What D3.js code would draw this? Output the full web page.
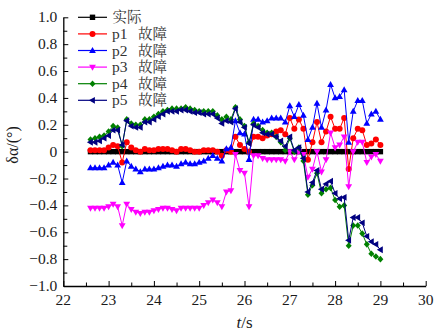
<!DOCTYPE html>
<html><head><meta charset="utf-8">
<script src="https://cdn.jsdelivr.net/npm/d3@7"></script>
<style>body{margin:0;background:#fff}svg{display:block;font-family:"Liberation Serif","Times New Roman",serif}
svg text{font-family:"Liberation Serif","Times New Roman",serif}
svg text.cjk{font-family:"Noto Serif CJK SC","Noto Serif CJK JP",serif}
</style>
</head><body>
<script>
const times = d3.range(65).map(i => +(22.6 + i*0.1).toFixed(1));
const actual = new Array(65).fill(0);
const p1 = [0.01,0.01,0.01,0.01,0.03,0.05,0.04,-0.08,0.07,0.03,0.01,0.00,0.02,0.01,0.01,0.02,0.02,0.02,0.01,0.00,0.02,0.02,0.01,0.00,0.00,0.01,0.01,0.01,0.00,-0.03,0.01,0.00,0.11,0.05,0.02,0.00,0.11,0.11,0.10,0.12,0.13,0.15,0.16,0.13,0.25,0.17,0.24,0.17,-0.06,0.07,0.22,0.07,0.15,0.26,0.17,0.17,0.25,-0.13,0.10,0.17,0.16,0.05,0.06,0.09,0.05];
const p2 = [-0.12,-0.12,-0.12,-0.12,-0.10,-0.08,-0.10,-0.23,-0.07,-0.11,-0.13,-0.15,-0.13,-0.13,-0.13,-0.12,-0.11,-0.10,-0.10,-0.11,-0.09,-0.08,-0.09,-0.09,-0.08,-0.07,-0.05,-0.03,-0.05,-0.07,0.02,0.03,0.23,0.14,0.13,-0.06,0.24,0.24,0.22,0.23,0.25,0.25,0.25,0.22,0.34,0.26,0.35,0.27,0.09,0.18,0.36,0.18,0.31,0.50,0.40,0.41,0.46,0.07,0.30,0.38,0.38,0.21,0.28,0.30,0.24];
const p3 = [-0.42,-0.42,-0.42,-0.42,-0.41,-0.39,-0.41,-0.55,-0.39,-0.43,-0.45,-0.46,-0.45,-0.45,-0.44,-0.43,-0.42,-0.42,-0.43,-0.44,-0.42,-0.42,-0.42,-0.42,-0.42,-0.40,-0.38,-0.36,-0.38,-0.41,-0.30,-0.29,-0.02,-0.14,-0.16,-0.41,-0.03,-0.03,-0.05,-0.06,-0.06,-0.06,-0.06,-0.07,0.00,-0.06,0.00,-0.02,-0.19,-0.13,0.00,-0.15,-0.06,0.14,0.03,0.05,0.11,-0.26,0.00,0.07,0.07,-0.08,-0.04,-0.02,-0.07];
const p4 = [0.09,0.10,0.11,0.12,0.15,0.19,0.18,0.04,0.24,0.21,0.20,0.20,0.24,0.24,0.26,0.28,0.30,0.31,0.32,0.32,0.32,0.33,0.32,0.31,0.30,0.30,0.30,0.30,0.27,0.24,0.26,0.24,0.33,0.24,0.19,0.07,0.21,0.19,0.16,0.14,0.14,0.11,0.07,0.01,0.10,0.00,0.03,-0.07,-0.32,-0.25,-0.16,-0.31,-0.28,-0.27,-0.36,-0.41,-0.40,-0.70,-0.55,-0.55,-0.61,-0.69,-0.76,-0.78,-0.80];
const p5 = [0.07,0.07,0.08,0.10,0.12,0.16,0.16,0.05,0.23,0.19,0.18,0.18,0.22,0.22,0.24,0.26,0.28,0.30,0.30,0.30,0.31,0.31,0.30,0.29,0.29,0.28,0.28,0.28,0.25,0.21,0.23,0.22,0.32,0.22,0.18,0.06,0.20,0.18,0.14,0.13,0.13,0.11,0.08,0.04,0.11,0.01,0.03,-0.05,-0.30,-0.23,-0.14,-0.28,-0.24,-0.22,-0.31,-0.35,-0.34,-0.66,-0.49,-0.49,-0.53,-0.63,-0.67,-0.69,-0.73];
const seriesPrefix = ["","p1","p2","p3","p4","p5"];
const seriesCJK = ["实际","故障","故障","故障","故障","故障"];
const seriesValues = [actual,p1,p2,p3,p4,p5];
const seriesColors = ["#000000","#ff0000","#0000ff","#ff00ff","#008000","#000080"];
const seriesSymbols = ["square","circle","up","down","diamond","left"];
const xTicks = [22,23,24,25,26,27,28,29,30];
const yTicks = [1.0,0.8,0.6,0.4,0.2,0,-0.2,-0.4,-0.6,-0.8,-1.0];

const W=445,H=334;
const m={l:63.3,r:19.3,t:17.3,b:48};
const svg=d3.select("body").append("svg").attr("width",W).attr("height",H);
const x=d3.scaleLinear().domain([22,30]).range([m.l,W-m.r]);
const y=d3.scaleLinear().domain([-1,1]).range([H-m.b,m.t]);
const fmt=v=>v===0?"0":(v<0?"\u2212":"")+Math.abs(v).toFixed(1);

const ax=svg.append("g").attr("transform",`translate(0,${y(-1)})`)
  .call(d3.axisBottom(x).tickValues(d3.range(22,30.01,0.5)).tickSizeInner(-4).tickSizeOuter(0).tickFormat(""));
ax.selectAll(".tick line").attr("y2",d=>Number.isInteger(d)?-5:-3.5);
ax.select(".domain").attr("stroke-width",1.3);
const ay=svg.append("g").attr("transform",`translate(${x(22)},0)`)
  .call(d3.axisLeft(y).tickValues(d3.range(-10,11).map(i=>i/10)).tickSizeInner(-4).tickSizeOuter(0).tickFormat(""));
ay.selectAll(".tick line").attr("x2",d=>Math.round(d*10)%2===0?5:4);
ay.select(".domain").attr("stroke-width",1.3);

svg.append("g").selectAll("text").data(xTicks).join("text")
  .attr("x",d=>x(d)).attr("y",y(-1)+19).attr("text-anchor","middle")
  .attr("font-size",15.5).attr("fill","#1a1a1a").text(d=>d);
svg.append("g").selectAll("text").data(yTicks).join("text")
  .attr("x",x(22)-6).attr("y",d=>y(d)+5).attr("text-anchor","end")
  .attr("font-size",15.5).attr("fill","#1a1a1a").text(fmt);

const xt=svg.append("text").attr("x",x(26)).attr("y",H-6).attr("text-anchor","middle")
  .attr("font-size",17).attr("fill","#1a1a1a");
xt.append("tspan").attr("font-style","italic").text("t");
xt.append("tspan").text("/s");
svg.append("text").attr("transform",`translate(18,${y(0.05)}) rotate(-90)`).attr("text-anchor","middle")
  .attr("font-size",16).attr("fill","#1a1a1a").text("δα/(°)");

function sym(g,type,color){
  if(type==="square") g.append("rect").attr("x",-2.7).attr("y",-2.7).attr("width",5.4).attr("height",5.4).attr("fill",color);
  else if(type==="circle") g.append("circle").attr("r",3).attr("fill",color);
  else if(type==="up") g.append("path").attr("d",`M0,-3.6L3.4,2.4L-3.4,2.4Z`).attr("fill",color);
  else if(type==="down") g.append("path").attr("d",`M0,3.6L3.4,-2.4L-3.4,-2.4Z`).attr("fill",color);
  else if(type==="diamond") g.append("path").attr("d",`M0,-3.3L3,0L0,3.3L-3,0Z`).attr("fill",color);
  else if(type==="left") g.append("path").attr("d",`M-3.6,0L2.4,-3.4L2.4,3.4Z`).attr("fill",color);
}

const line=d3.line().x((d,i)=>x(times[i])).y(d=>y(d));
seriesValues.forEach((vals,k)=>{
  const g=svg.append("g");
  g.append("path").attr("d",line(vals)).attr("fill","none").attr("stroke",seriesColors[k]).attr("stroke-width",k===0?1.5:1);
  vals.forEach((v,i)=>{
    const mg=g.append("g").attr("transform",`translate(${x(times[i])},${y(v)})`);
    sym(mg,seriesSymbols[k],seriesColors[k]);
  });
});

const lg=svg.append("g");
seriesPrefix.forEach((pre,k)=>{
  const yy=17.3+k*16.6;
  lg.append("line").attr("x1",78).attr("x2",107).attr("y1",yy).attr("y2",yy).attr("stroke",seriesColors[k]).attr("stroke-width",1.2);
  const mg=lg.append("g").attr("transform",`translate(92.5,${yy})`);
  sym(mg,seriesSymbols[k],seriesColors[k]);
  if(pre) lg.append("text").attr("x",112).attr("y",yy+5)
    .attr("font-size",15.5).attr("fill","#333").text(pre);
  lg.append("text").attr("class","cjk").attr("x",pre?138:112.5).attr("y",yy+5)
    .attr("font-size",14.5).attr("fill","#333").text(seriesCJK[k]);
});
</script>
</body></html>
